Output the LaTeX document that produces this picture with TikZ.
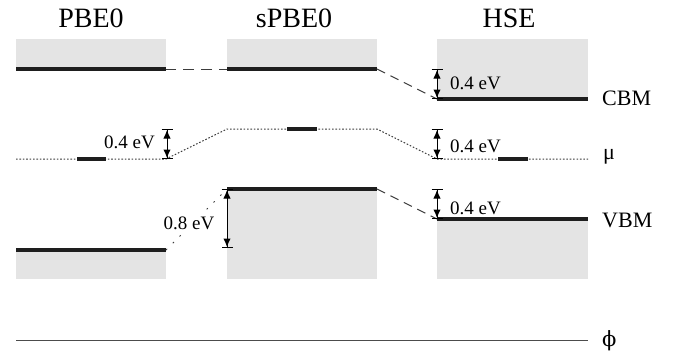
\documentclass[tikz,border=0pt]{standalone}
\usepackage{fontspec}
\setmainfont{Liberation Serif}
\newfontfamily\phifont{DejaVu Serif}
\usetikzlibrary{arrows.meta}
\definecolor{bandgray}{RGB}{228,228,228}
\definecolor{levelc}{RGB}{30,30,30}
\definecolor{linkc}{RGB}{60,60,60}
\begin{document}
\begin{tikzpicture}[x=1pt,y=-1pt,
  band/.style={fill=bandgray,draw=none},
  level/.style={line width=4pt,draw=levelc},
  mudot/.style={line width=1pt,draw=linkc,dash pattern=on 1.6pt off 1.8pt},
  sparsedot/.style={line width=1pt,draw=linkc,dash pattern=on 1.6pt off 8pt},
  linkdash/.style={line width=1pt,draw=linkc,dash pattern=on 9pt off 6pt},
  cbmdash/.style={line width=1pt,draw=linkc,dash pattern=on 11pt off 7pt,dash phase=3pt},
  dimarrow/.style={line width=1pt,draw=black,
    arrows={Bar[width=11pt]Latex[length=8.5pt,width=7.5pt]-Latex[length=8.5pt,width=7.5pt]Bar[width=11pt]}},
  title/.style={font=\fontsize{28}{30}\selectfont,anchor=base,inner sep=0pt},
  lab/.style={font=\fontsize{19}{21}\selectfont,inner sep=3pt},
  side/.style={font=\fontsize{22}{24}\selectfont,anchor=west,inner sep=0pt}
]
\useasboundingbox (0,0) rectangle (679,356);

% titles
\node[title] (tP) at (91,27) {PBE0};
\node[title] (tS) at (294,27) {sPBE0};
\node[title] (tH) at (509,27) {HSE};

% level coordinates
\coordinate (pCl) at (16,69);  \coordinate (pCr) at (166,69);
\coordinate (sCl) at (227,69); \coordinate (sCr) at (377,69);
\coordinate (hCl) at (437,99); \coordinate (hCr) at (588,99);
\coordinate (pVl) at (16,250);  \coordinate (pVr) at (166,250);
\coordinate (sVl) at (227,189); \coordinate (sVr) at (377,189);
\coordinate (hVl) at (437,219); \coordinate (hVr) at (588,219);
\coordinate (pMl) at (16,159);  \coordinate (pMr) at (166,159);
\coordinate (sMl) at (227,129); \coordinate (sMr) at (377,129);
\coordinate (hMl) at (437,159); \coordinate (hMr) at (588,159);

% bands
\fill[bandgray] (16,39) rectangle (pCr);
\fill[bandgray] (pVl) rectangle (166,279);
\fill[bandgray] (227,39) rectangle (sCr);
\fill[bandgray] (sVl) rectangle (377,279);
\fill[bandgray] (437,39) rectangle (hCr);
\fill[bandgray] (hVl) rectangle (588,279);

% chemical potential path
\draw[mudot] (pMl) -- (pMr) -- (sMl) -- (sMr) -- (hMl) -- (hMr);

% links between levels
\draw[cbmdash] (sCl) -- (pCr);
\draw[linkdash] (sCr) -- (hCl);
\draw[linkdash] (sVr) -- (hVl);
\draw[sparsedot] (pVr) -- (sVl);

% band edges
\draw[level] (pCl) -- (pCr);
\draw[level] (sCl) -- (sCr);
\draw[level] (hCl) -- (hCr);
\draw[level] (pVl) -- (pVr);
\draw[level] (sVl) -- (sVr);
\draw[level] (hVl) -- (hVr);

% defect levels
\coordinate (d1a) at (77,159);  \coordinate (d1b) at (106,159);
\coordinate (d2a) at (287,129); \coordinate (d2b) at (317,129);
\coordinate (d3a) at (498,159); \coordinate (d3b) at (528,159);
\draw[level] (d1a) -- (d1b);
\draw[level] (d2a) -- (d2b);
\draw[level] (d3a) -- (d3b);

% dimension arrows
\coordinate (a1t) at (167,129); \coordinate (a1b) at (167,159);
\draw[dimarrow] (a1t) -- (a1b);
\node[lab,anchor=east] (l1) at (158,142) {0.4 eV};

\coordinate (a2t) at (437,69); \coordinate (a2b) at (437,99);
\draw[dimarrow] (a2t) -- (a2b);
\node[lab,anchor=west] (l2) at (447,83) {0.4 eV};

\coordinate (a3t) at (437,129); \coordinate (a3b) at (437,159);
\draw[dimarrow] (a3t) -- (a3b);
\node[lab,anchor=west] (l3) at (447,146) {0.4 eV};

\node[lab,fill=white,inner sep=5pt] (l4) at (189,223) {0.8 eV};
\coordinate (a4t) at (227,189); \coordinate (a4b) at (227,248);
\draw[dimarrow] (a4t) -- (a4b);

\coordinate (a5t) at (437,189); \coordinate (a5b) at (437,219);
\draw[dimarrow] (a5t) -- (a5b);
\node[lab,anchor=west] (l5) at (447,208) {0.4 eV};

% vacuum / potential line
\coordinate (phl) at (16,340); \coordinate (phr) at (588,340);
\draw[line width=1pt,draw=black!70] (phl) -- (phr);

% side labels
\node[side] (cbm) at (602,98) {CBM};
\node[side] (mu) at (603,157) {μ};
\node[side] (vbm) at (602,220) {VBM};
\node[side,font=\phifont\fontsize{21}{23}\selectfont] (phi) at (602,341) {ϕ};
\end{tikzpicture}
\end{document}
